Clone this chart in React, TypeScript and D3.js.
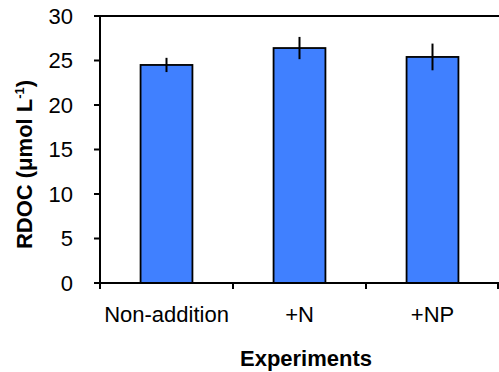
import React from "react";
import * as d3 from "d3";

const categories = ["Non-addition", "+N", "+NP"];
const values = [24.5, 26.4, 25.4];
const errors = [0.8, 1.25, 1.5];
const yTicks = [0, 5, 10, 15, 20, 25, 30];

const W = 499;
const H = 372;
const left = 100;
const right = 499;
const top = 16;
const bottom = 283;
const FONT = "Liberation Sans, Arial, sans-serif";

export default function App() {
  const x = d3.scaleBand<string>().domain(categories).range([left, right]).padding(0);
  const y = d3.scaleLinear().domain([0, 30]).range([bottom, top]);
  const bw = x.bandwidth() * 0.39;
  const edges = [left, ...categories.map((c) => (x(c) as number) + x.bandwidth())];

  return (
    <svg width={W} height={H} style={{ position: "absolute", left: 0, top: 0, background: "#fff" }}>
      {/* bars */}
      {categories.map((c, i) => {
        const cx = (x(c) as number) + x.bandwidth() / 2;
        return (
          <g key={c}>
            <rect
              x={cx - bw / 2}
              y={y(values[i])}
              width={bw}
              height={y(0) - y(values[i])}
              fill="rgb(64,128,255)"
              stroke="#000"
              strokeWidth={1.8}
            />
            <line
              x1={cx}
              x2={cx}
              y1={y(values[i] + errors[i])}
              y2={y(values[i] - errors[i])}
              stroke="#000"
              strokeWidth={2}
            />
          </g>
        );
      })}
      {/* top border */}
      <line x1={left} x2={right} y1={y(30)} y2={y(30)} stroke="#000" strokeWidth={2} />
      {/* y axis */}
      <line x1={left} x2={left} y1={top - 1} y2={bottom + 6} stroke="#000" strokeWidth={2} />
      {yTicks.map((t) => (
        <g key={t}>
          <line x1={left - 6} x2={left} y1={y(t)} y2={y(t)} stroke="#000" strokeWidth={2} />
          <text
            x={73}
            y={y(t)}
            dy="0.36em"
            textAnchor="end"
            fontFamily={FONT}
            fontSize={22}
            fill="#000"
          >
            {t}
          </text>
        </g>
      ))}
      {/* x axis */}
      <line x1={left - 1} x2={right} y1={bottom} y2={bottom} stroke="#000" strokeWidth={2} />
      {edges.map((e, i) => (
        <line key={i} x1={Math.min(e, right - 1)} x2={Math.min(e, right - 1)} y1={bottom} y2={bottom + 6} stroke="#000" strokeWidth={2} />
      ))}
      {categories.map((c) => (
        <text
          key={c}
          x={(x(c) as number) + x.bandwidth() / 2}
          y={322}
          textAnchor="middle"
          fontFamily={FONT}
          fontSize={22}
          fill="#000"
        >
          {c}
        </text>
      ))}
      {/* axis titles */}
      <text x={306} y={366} textAnchor="middle" fontFamily={FONT} fontSize={22} fontWeight="bold" fill="#000">
        Experiments
      </text>
      <text
        transform={`translate(32,164.5) rotate(-90)`}
        textAnchor="middle"
        fontFamily={FONT}
        fontSize={22}
        fontWeight="bold"
        fill="#000"
      >
        RDOC (μmol L
        <tspan dy={-8} fontSize={13}>-1</tspan>
        <tspan dy={8}>)</tspan>
      </text>
    </svg>
  );
}
